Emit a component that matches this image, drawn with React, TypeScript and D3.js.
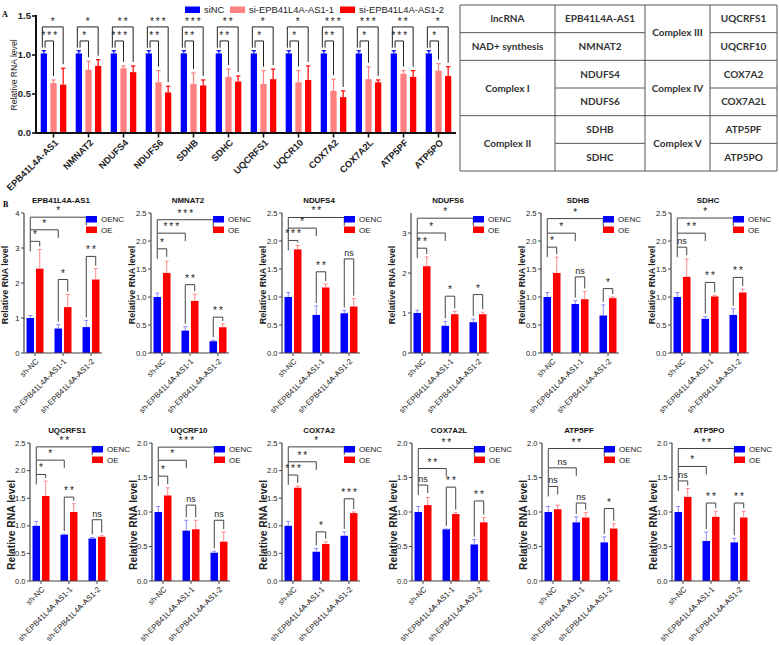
import React from "react";
import * as d3 from "d3";

// ---------------- Panel A data ----------------
const genesA = ["EPB41L4A-AS1", "NMNAT2", "NDUFS4", "NDUFS6", "SDHB", "SDHC", "UQCRFS1", "UQCR10", "COX7A2", "COX7A2L", "ATP5PF", "ATP5PO"];
const seriesA = ["siNC", "si-EPB41L4A-AS1-1", "si-EPB41L4A-AS1-2"];
const siNCMean = [1.02, 1.02, 1.02, 1.02, 1.02, 1.02, 1.02, 1.02, 1.02, 1.02, 1.02, 1.02];
const siNCErr = [0.035, 0.035, 0.035, 0.035, 0.035, 0.035, 0.035, 0.035, 0.035, 0.035, 0.035, 0.035];
const si1Mean = [0.64, 0.81, 0.83, 0.65, 0.63, 0.72, 0.63, 0.65, 0.54, 0.69, 0.76, 0.8];
const si1Err = [0.04, 0.11, 0.03, 0.15, 0.14, 0.1, 0.17, 0.15, 0.15, 0.16, 0.04, 0.09];
const si2Mean = [0.62, 0.86, 0.78, 0.52, 0.61, 0.66, 0.69, 0.68, 0.46, 0.65, 0.72, 0.73];
const si2Err = [0.21, 0.08, 0.08, 0.08, 0.07, 0.07, 0.13, 0.18, 0.08, 0.03, 0.08, 0.12];
const sigUpperA = ["*", "*", "**", "***", "***", "**", "*", "*", "***", "***", "**", "*"];
const sigLowerA = ["***", "*", "***", "**", "**", "**", "*", "*", "**", "*", "***", "*"];
const bracketLevelsA = [1.36, 1.18];
const yTicksA = [0, 0.5, 1.0, 1.5];

// ---------------- Table data ----------------
const tableCol1 = ["lncRNA", "NAD+ synthesis", "Complex I", "Complex II"];
const tableCol1Span = [1, 1, 2, 2];
const tableCol2 = ["EPB41L4A-AS1", "NMNAT2", "NDUFS4", "NDUFS6", "SDHB", "SDHC"];
const tableCol3 = ["Complex III", "Complex IV", "Complex V"];
const tableCol3Span = [2, 2, 2];
const tableCol4 = ["UQCRFS1", "UQCRF10", "COX7A2", "COX7A2L", "ATP5PF", "ATP5PO"];

// ---------------- Panel B data ----------------
const titlesB = ["EPB41L4A-AS1", "NMNAT2", "NDUFS4", "NDUFS6", "SDHB", "SDHC", "UQCRFS1", "UQCRF10", "COX7A2", "COX7A2L", "ATP5PF", "ATP5PO"];
const groupsB = ["sh-NC", "sh-EPB41L4A-AS1-1", "sh-EPB41L4A-AS1-2"];
const seriesB = ["OENC", "OE"];
const yMaxB = [4, 2.5, 2.5, 3.5, 2.5, 2.5, 2.5, 2, 2.5, 2, 2, 2];
const yStepB = [1, 0.5, 0.5, 1, 0.5, 0.5, 0.5, 0.5, 0.5, 0.5, 0.5, 0.5];
const oencMeanB = [
  [1.0, 0.7, 0.74], [1.0, 0.4, 0.21], [1.0, 0.68, 0.71], [1.0, 0.68, 0.77], [1.0, 0.875, 0.67], [1.0, 0.61, 0.68],
  [1.0, 0.84, 0.77], [1.0, 0.73, 0.41], [1.0, 0.53, 0.82], [1.0, 0.75, 0.53], [1.0, 0.85, 0.56], [1.0, 0.58, 0.56],
];
const oencErrB = [
  [0.07, 0.11, 0.19], [0.07, 0.07, 0.02], [0.08, 0.16, 0.05], [0.07, 0.11, 0.08], [0.08, 0.06, 0.19], [0.08, 0.04, 0.11],
  [0.08, 0.01, 0.02], [0.08, 0.15, 0.02], [0.08, 0.06, 0.07], [0.08, 0.005, 0.07], [0.08, 0.08, 0.08], [0.08, 0.13, 0.06],
];
const oeMeanB = [
  [2.41, 1.31, 2.1], [1.43, 0.93, 0.46], [1.85, 1.17, 0.83], [2.17, 0.97, 0.97], [1.43, 0.96, 0.98], [1.36, 1.01, 1.08],
  [1.54, 1.25, 0.8], [1.24, 0.75, 0.57], [1.69, 0.67, 1.23], [1.1, 0.97, 0.85], [1.04, 0.92, 0.76], [1.22, 0.93, 0.92],
];
const oeErrB = [
  [0.55, 0.36, 0.31], [0.21, 0.12, 0.06], [0.07, 0.06, 0.14], [0.23, 0.07, 0.05], [0.28, 0.14, 0.02], [0.32, 0.02, 0.06],
  [0.27, 0.15, 0.02], [0.11, 0.13, 0.14], [0.03, 0.04, 0.02], [0.11, 0.02, 0.07], [0.06, 0.07, 0.07], [0.12, 0.08, 0.09],
];
// bracket levels: [NC vs g3, NC vs g2, NC OENC vs OE, g2 OENC vs OE, g3 OENC vs OE]
const bracketLevelsB = [
  [3.88, 3.52, 3.19, 2.1, 2.76], [2.38, 2.14, 1.86, 1.22, 0.64], [2.42, 2.23, 2.01, 1.45, 1.68],
  [3.37, 3.0, 2.62, 1.42, 1.46], [2.4, 2.14, 1.89, 1.36, 1.15], [2.41, 2.14, 1.89, 1.26, 1.35],
  [2.43, 2.19, 1.93, 1.52, 1.11], [1.94, 1.75, 1.52, 1.1, 0.88], [2.43, 2.16, 1.92, 0.89, 1.49],
  [1.92, 1.63, 1.39, 1.36, 1.16], [1.92, 1.64, 1.37, 1.13, 1.05], [1.92, 1.66, 1.45, 1.13, 1.13],
];
const bracketLabelsB = [
  ["*", "*", "*", "*", "**"], ["***", "***", "*", "**", "**"], ["**", "*", "***", "**", "ns"],
  ["*", "*", "**", "*", "*"], ["*", "*", "*", "ns", "*"], ["*", "**", "ns", "**", "**"],
  ["**", "*", "*", "**", "ns"], ["***", "*", "*", "ns", "ns"], ["*", "**", "***", "*", "***"],
  ["**", "**", "ns", "**", "**"], ["**", "ns", "ns", "ns", "*"], ["**", "*", "ns", "**", "**"],
];

// ---------------- styles / layout ----------------
const FONT = "'Liberation Sans', Arial, Helvetica, sans-serif";
const BLUE = "#0000ff";
const PINK = "#ff8080";
const RED = "#ff0000";
const BLUE_ERR = "#8a8aff";
const RED_ERR = "#ff8a8a";
const colorsA = [BLUE, PINK, RED];

const COLS_B = [
  [24, 151, 282, 411, 541, 671],
  [30, 152, 282, 412, 542, 672],
];
const ROWS_B = [
  { top: 213, bottom: 353, titleY: 203, ylabSize: 9, ylabY: 285 },
  { top: 443, bottom: 581, titleY: 433, ylabSize: 10.3, ylabY: 525 },
];

function SigLabel({ x, y, text, size }: { x: number; y: number; text: string; size: number }) {
  const isNs = text === "ns";
  const ls = isNs ? 0 : size * 0.2;
  return (
    <text
      x={x + ls / 2}
      y={y}
      textAnchor="middle"
      fontFamily={FONT}
      fontSize={isNs ? size * 0.9 : size}
      letterSpacing={ls}
      fill="#222"
    >
      {text}
    </text>
  );
}

function PanelA() {
  const x = d3.scaleBand<string>().domain(genesA).range([36, 456]).paddingInner(0).paddingOuter(0);
  const s = d3.scaleBand<string>().domain(seriesA).range([-12.8, 12.8]).paddingInner(0.35);
  const y = d3.scaleLinear().domain([0, 1.5]).range([133, 16]);
  const means = [siNCMean, si1Mean, si2Mean];
  const errs = [siNCErr, si1Err, si2Err];
  const bw = s.bandwidth();
  const cx = (g: string) => (x(g) as number) + x.bandwidth() / 2;
  const sc = (g: string, k: number) => cx(g) + (s(seriesA[k]) as number) + bw / 2;
  return (
    <g>
      <text x={2} y={17} fontFamily="'Liberation Serif', 'DejaVu Serif', serif" fontWeight="bold" fontSize={8}>A</text>
      {/* legend */}
      {seriesA.map((name, k) => {
        const lx = [185, 230, 340][k];
        return (
          <g key={name}>
            <rect x={lx} y={6.5} width={15} height={6.5} fill={colorsA[k]} />
            <text x={lx + 19} y={13.2} fontFamily={FONT} fontSize={9.4} fill="#222">{name}</text>
          </g>
        );
      })}
      {/* bars */}
      {genesA.map((g, i) => (
        <g key={g}>
          {seriesA.map((sn, k) => {
            const m = means[k][i];
            const e = errs[k][i];
            const bx = sc(g, k);
            return (
              <g key={sn}>
                <rect x={bx - bw / 2} y={y(m)} width={bw} height={y(0) - y(m)} fill={colorsA[k]} />
                <line x1={bx} x2={bx} y1={y(m)} y2={y(m + e)} stroke={colorsA[k]} strokeWidth={1.2} />
                <line x1={bx - 2.2} x2={bx + 2.2} y1={y(m + e)} y2={y(m + e)} stroke={colorsA[k]} strokeWidth={1.2} />
              </g>
            );
          })}
          {/* brackets */}
          {[0, 1].map((b) => {
            const lvl = y(bracketLevelsA[b]);
            const target = b === 0 ? 2 : 1;
            const xl = sc(g, 0) + (b === 0 ? -1.5 : 1.2);
            const xr = sc(g, target);
            const leftEnd = y(means[0][i] + errs[0][i]) - 3;
            const rightEnd = y(means[target][i] + errs[target][i]) - 4;
            const lab = b === 0 ? sigUpperA[i] : sigLowerA[i];
            return (
              <g key={b}>
                <path d={`M${xl},${leftEnd}V${lvl}H${xr}V${rightEnd}`} fill="none" stroke="#222" strokeWidth={1} />
                <SigLabel x={(xl + xr) / 2} y={lvl - 1.5} text={lab} size={10} />
              </g>
            );
          })}
          {/* x tick + label */}
          <line x1={cx(g)} x2={cx(g)} y1={133} y2={137.5} stroke="#111" strokeWidth={1.6} />
          <text
            transform={`translate(${cx(g) + 3},${141}) rotate(-45)`}
            textAnchor="end"
            dy="0.35em"
            fontFamily={FONT}
            fontWeight="bold"
            fontSize={9.3}
            fill="#222"
          >
            {g}
          </text>
        </g>
      ))}
      {/* axes */}
      <line x1={36} x2={36} y1={y(1.5) - 1} y2={y(0) + 1} stroke="#111" strokeWidth={2} />
      <line x1={35} x2={456} y1={y(0)} y2={y(0)} stroke="#111" strokeWidth={2} />
      {yTicksA.map((t) => (
        <g key={t}>
          <line x1={32} x2={36} y1={y(t)} y2={y(t)} stroke="#111" strokeWidth={1.6} />
          <text x={31} y={y(t)} dy="0.35em" textAnchor="end" fontFamily={FONT} fontWeight="bold" fontSize={9.5} fill="#222">
            {d3.format(".1f")(t)}
          </text>
        </g>
      ))}
      <text
        transform={`translate(14,${75}) rotate(-90)`}
        textAnchor="middle"
        dy="0.35em"
        fontFamily={FONT}
        fontSize={8.6}
        fill="#222"
      >
        Relative RNA level
      </text>
    </g>
  );
}

function Table() {
  const xs = [460, 555, 645, 710, 777];
  const ys = d3.range(7).map((r) => 5 + r * 27.67);
  const cell = (c: number, r0: number, span: number, text: string) => {
    const cxm = (xs[c] + xs[c + 1]) / 2;
    const cym = (ys[r0] + ys[r0 + span]) / 2;
    return (
      <text key={`${c}-${r0}`} x={cxm} y={cym} dy="0.36em" textAnchor="middle" fontFamily="Lato, 'Open Sans', sans-serif" fontWeight="bold" fontSize={10} fill="#333">
        {text}
      </text>
    );
  };
  const texts: JSX.Element[] = [];
  let r = 0;
  tableCol1.forEach((t, k) => { texts.push(cell(0, r, tableCol1Span[k], t)); r += tableCol1Span[k]; });
  tableCol2.forEach((t, k) => texts.push(cell(1, k, 1, t)));
  r = 0;
  tableCol3.forEach((t, k) => { texts.push(cell(2, r, tableCol3Span[k], t)); r += tableCol3Span[k]; });
  tableCol4.forEach((t, k) => texts.push(cell(3, k, 1, t)));
  // horizontal segments for each column based on spans
  const hlines: JSX.Element[] = [];
  const boundaries = (spans: number[] | null) => {
    if (!spans) return d3.range(7);
    const b = [0];
    spans.forEach((sp) => b.push(b[b.length - 1] + sp));
    return b;
  };
  [tableCol1Span, null, tableCol3Span, null].forEach((sp, c) => {
    boundaries(sp).forEach((ri) => {
      hlines.push(<line key={`h${c}-${ri}`} x1={xs[c]} x2={xs[c + 1]} y1={ys[ri]} y2={ys[ri]} stroke="#555" strokeWidth={1} />);
    });
  });
  return (
    <g>
      {xs.map((xv, k) => (
        <line key={`v${k}`} x1={xv} x2={xv} y1={ys[0]} y2={ys[6]} stroke="#555" strokeWidth={1} />
      ))}
      {hlines}
      {texts}
    </g>
  );
}

function PanelB({ i }: { i: number }) {
  const row = Math.floor(i / 6);
  const col = i % 6;
  const X0 = COLS_B[row][col];
  const { top, bottom, titleY, ylabSize, ylabY } = ROWS_B[row];
  const y = d3.scaleLinear().domain([0, yMaxB[i]]).range([bottom, top]);
  const g = d3.scalePoint<string>().domain(groupsB).range([X0 + 11, X0 + 67]);
  const s = d3.scaleBand<string>().domain(seriesB).range([-8.5, 8.5]).paddingInner(0.2);
  const bw = s.bandwidth();
  const means = [oencMeanB[i], oeMeanB[i]];
  const errs = [oencErrB[i], oeErrB[i]];
  const barC = (j: number, k: number) => (g(groupsB[j]) as number) + (s(seriesB[k]) as number) + bw / 2;
  const errTop = (j: number, k: number) => y(means[k][j] + errs[k][j]);
  const ticks = d3.range(0, yMaxB[i] + 1e-9, yStepB[i]);
  const fmt = yStepB[i] >= 1 ? d3.format("d") : d3.format(".1f");
  const lv = bracketLevelsB[i].map((v) => y(v));
  const lb = bracketLabelsB[i];
  const stroke = "#444";
  const xb0 = barC(0, 0);
  // top brackets: c (to g3 blue), b (to g2 blue), a (to g1 red)
  const topTargets: [number, number][] = [[2, 0], [1, 0], [0, 1]];
  return (
    <g>
      <text x={X0 + 37} y={titleY} textAnchor="middle" fontFamily={FONT} fontWeight="bold" fontSize={7.9} fill="#111">
        {titlesB[i]}
      </text>
      {/* bars */}
      {groupsB.map((gn, j) => (
        <g key={gn}>
          {seriesB.map((sn, k) => {
            const m = means[k][j];
            const bx = barC(j, k);
            const ec = k === 0 ? BLUE_ERR : RED_ERR;
            return (
              <g key={sn}>
                <rect x={bx - bw / 2} y={y(m)} width={bw} height={bottom - y(m)} fill={k === 0 ? BLUE : RED} />
                <line x1={bx} x2={bx} y1={y(m)} y2={errTop(j, k)} stroke={ec} strokeWidth={1} />
                <line x1={bx - 2} x2={bx + 2} y1={errTop(j, k)} y2={errTop(j, k)} stroke={ec} strokeWidth={1} />
              </g>
            );
          })}
          <line x1={g(gn) as number} x2={g(gn) as number} y1={bottom} y2={bottom + 3} stroke={stroke} strokeWidth={1} />
          <text
            transform={`translate(${(g(gn) as number) + 2},${bottom + 7}) rotate(-45)`}
            textAnchor="end"
            dy="0.35em"
            fontFamily={FONT}
            fontSize={7.8}
            fill="#222"
          >
            {gn}
          </text>
        </g>
      ))}
      {/* top brackets */}
      <line x1={xb0} x2={xb0} y1={lv[0]} y2={lv[2] + 10} stroke={stroke} strokeWidth={1} />
      {topTargets.map(([j, k], bi) => {
        const xr = barC(j, k);
        const end = Math.min(lv[bi] + 8, errTop(j, k) - 3);
        return (
          <g key={`t${bi}`}>
            <path d={`M${xb0},${lv[bi]}H${xr}V${end}`} fill="none" stroke={stroke} strokeWidth={1} />
            <SigLabel x={(xb0 + xr) / 2} y={lv[bi] - 3} text={lb[bi]} size={10} />
          </g>
        );
      })}
      {/* within-group brackets */}
      {[1, 2].map((j, q) => {
        const lvl = lv[3 + q];
        const xl = barC(j, 0);
        const xr = barC(j, 1);
        return (
          <g key={`w${j}`}>
            <path d={`M${xl},${errTop(j, 0) - 3}V${lvl}H${xr}V${errTop(j, 1) - 3}`} fill="none" stroke={stroke} strokeWidth={1} />
            <SigLabel x={(xl + xr) / 2} y={lvl - 3} text={lb[3 + q]} size={10} />
          </g>
        );
      })}
      {/* axes */}
      <line x1={X0} x2={X0} y1={top} y2={bottom} stroke={stroke} strokeWidth={1.2} />
      <line x1={X0} x2={X0 + 78} y1={bottom} y2={bottom} stroke={stroke} strokeWidth={1.2} />
      {ticks.map((t) => (
        <g key={t}>
          <line x1={X0 - 3} x2={X0} y1={y(t)} y2={y(t)} stroke={stroke} strokeWidth={1} />
          <text x={X0 - 4.5} y={y(t)} dy="0.35em" textAnchor="end" fontFamily={FONT} fontSize={7.6} fill="#222">
            {fmt(t)}
          </text>
        </g>
      ))}
      <text
        transform={`translate(${X0 - 19},${ylabY}) rotate(-90)`}
        textAnchor="middle"
        dy="0.35em"
        fontFamily={FONT}
        fontWeight="bold"
        fontSize={ylabSize}
        fill="#222"
      >
        Relative RNA level
      </text>
      {/* legend */}
      {seriesB.map((sn, k) => (
        <g key={sn}>
          <rect x={X0 + 62} y={top + 3 + k * 10.5} width={11} height={6.5} fill={k === 0 ? BLUE : RED} />
          <text x={X0 + 77} y={top + 9.3 + k * 10.5} fontFamily={FONT} fontSize={8} fill="#222">{sn}</text>
        </g>
      ))}
    </g>
  );
}

export default function App() {
  return (
    <div style={{ position: "absolute", left: 0, top: 0 }}>
      <svg width={779} height={645} viewBox="0 0 779 645" style={{ display: "block", background: "#fff" }}>
        <rect width={779} height={645} fill="#fff" />
        <PanelA />
        <Table />
        <text x={3} y={207} fontFamily="'Liberation Serif', 'DejaVu Serif', serif" fontWeight="bold" fontSize={8}>B</text>
        {titlesB.map((t, i) => (
          <PanelB key={t} i={i} />
        ))}
      </svg>
    </div>
  );
}
